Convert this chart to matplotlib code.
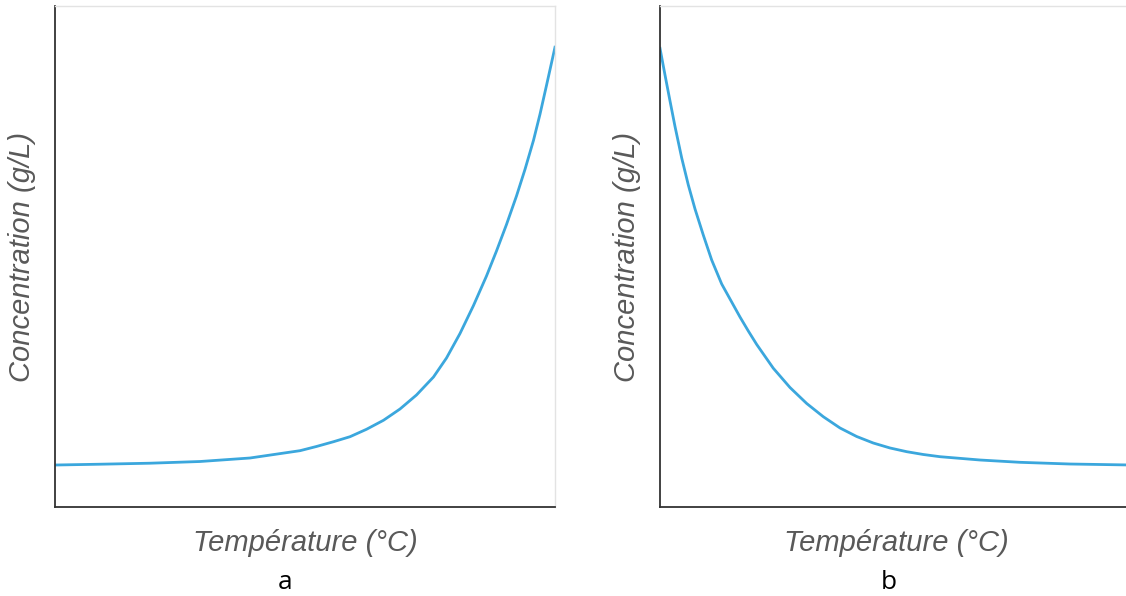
import matplotlib.pyplot as plt

# curve values (x and y in percent of the axes range)
temp_a = [0, 9, 19, 29, 39, 49, 52.3, 55.7, 59, 62.3, 65.7, 69, 72.3, 75.7, 78.3, 81,
          83.7, 86.3, 88.3, 90.3, 92.3, 94, 95.7, 97, 98.3, 100]
conc_a = [8.38, 8.54, 8.74, 9.08, 9.78, 11.24, 12.08, 13.03, 14.03, 15.51, 17.31, 19.56,
          22.36, 25.95, 29.74, 34.63, 40.22, 46.11, 51.10, 56.39, 62.08, 67.39, 73.19,
          78.40, 84.15, 91.78]

temp_b = [0, 1.06, 2.12, 3.18, 4.6, 6.0, 7.42, 9.17, 10.95, 13.07, 16.95, 18.71, 20.49,
          24.0, 27.54, 31.08, 34.6, 38.14, 41.67, 45.19, 48.73, 52.27, 55.78, 59.32,
          67.8, 76.27, 86.86, 100]
conc_b = [91.56, 86.23, 81.04, 75.95, 69.66, 64.27, 59.48, 54.29, 49.30, 44.51, 37.92,
          35.13, 32.44, 27.70, 23.85, 20.66, 18.02, 15.77, 14.07, 12.77, 11.78, 11.04,
          10.48, 10.04, 9.38, 8.92, 8.58, 8.38]

panel_labels = ['a', 'b']
x_label = 'Température (°C)'
y_label = 'Concentration (g/L)'

line_color = '#3ba7dd'
label_color = '#595959'

fig = plt.figure(figsize=(11.26, 5.96), dpi=100)
ax_a = fig.add_axes([55 / 1126, 89 / 596, 500 / 1126, 501 / 596])
ax_b = fig.add_axes([660 / 1126, 89 / 596, 472 / 1126, 501 / 596])

for ax, x, y in [(ax_a, temp_a, conc_a), (ax_b, temp_b, conc_b)]:
    ax.plot(x, y, color=line_color, linewidth=2.0, solid_joinstyle='round')
    ax.set_xlim(0, 100)
    ax.set_ylim(0, 100)
    ax.set_xticks([])
    ax.set_yticks([])
    for side in ['left', 'bottom']:
        ax.spines[side].set_color('#333333')
        ax.spines[side].set_linewidth(1.3)
    for side in ['top', 'right']:
        ax.spines[side].set_color('#e3e3e3')
        ax.spines[side].set_linewidth(1.0)
    ax.set_xlabel(x_label, fontsize=21, style='italic', color=label_color,
                  family='Liberation Sans', labelpad=16)
    ax.set_ylabel(y_label, fontsize=21, style='italic', color=label_color,
                  family='Liberation Sans', labelpad=14)

fig.text(285 / 1126, 0.012, panel_labels[0], fontsize=19, color='black',
         family='Open Sans', ha='center', va='baseline')
fig.text(889 / 1126, 0.012, panel_labels[1], fontsize=19, color='black',
         family='Open Sans', ha='center', va='baseline')

fig.savefig('out.png', dpi=100)
